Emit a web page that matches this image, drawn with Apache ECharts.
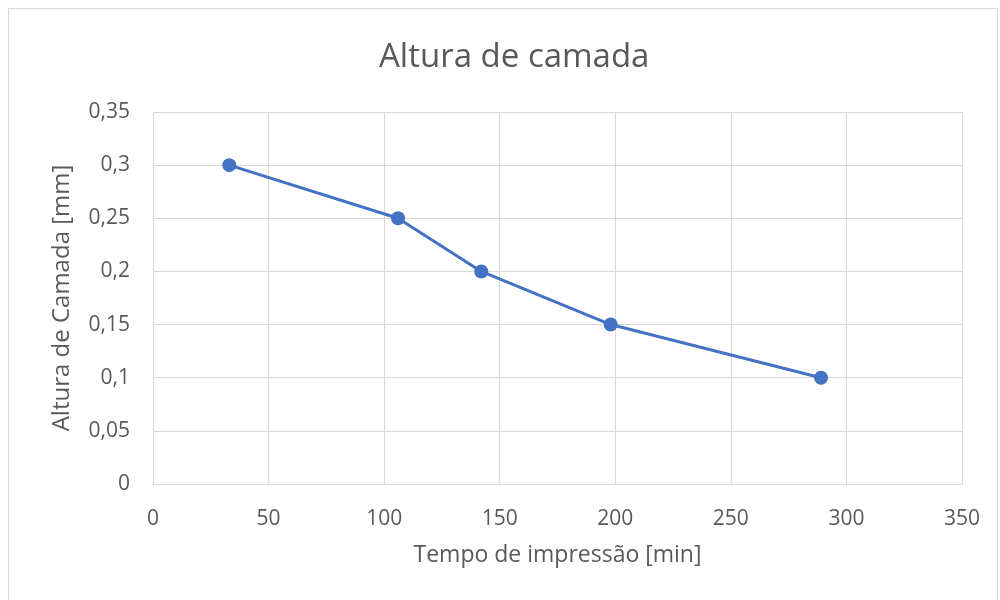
<!DOCTYPE html>
<html><head><meta charset="utf-8">
<script src="https://cdn.jsdelivr.net/npm/echarts@6/dist/echarts.min.js"></script>
<style>html,body{margin:0;padding:0;background:#fff}#c{width:1000px;height:600px}
#frame{position:absolute;left:8px;top:8px;width:990px;height:600px;border:1px solid #d9d9d9;box-sizing:border-box;pointer-events:none}</style>
</head><body><div id="c"></div><div id="frame"></div>
<script>
const timeMin = [33, 106, 142, 198, 289];
const layerHeight = [0.3, 0.25, 0.2, 0.15, 0.1];
const titleText = 'Altura de camada';
const xName = 'Tempo de impressão [min]';
const yName = 'Altura de Camada [mm]';
const font = '"Open Sans", "Noto Sans", sans-serif';
const chart = echarts.init(document.getElementById('c'));
chart.setOption({
  animation: false,
  title: {text: titleText, left: 374, top: 36, textStyle: {fontFamily: font, fontSize: 33, fontWeight: 'normal', color: '#595959'}},
  grid: {left: 153, right: 38, top: 112, bottom: 116},
  xAxis: {type: 'value', min: 0, max: 350, interval: 50,
    name: xName, nameLocation: 'middle', nameGap: 60,
    nameTextStyle: {fontFamily: font, fontSize: 23, color: '#595959'},
    axisLine: {show: true, lineStyle: {color: '#d9d9d9', width: 1}}, axisTick: {show: false},
    axisLabel: {fontFamily: font, fontSize: 21, color: '#595959', margin: 25},
    splitLine: {show: true, lineStyle: {color: '#d9d9d9', width: 1}}},
  yAxis: {type: 'value', min: 0, max: 0.35, interval: 0.05,
    name: yName, nameLocation: 'middle', nameGap: 79,
    nameTextStyle: {fontFamily: font, fontSize: 24, color: '#595959'},
    axisLine: {show: false}, axisTick: {show: false},
    axisLabel: {fontFamily: font, fontSize: 21, color: '#595959', margin: 23,
      formatter: v => String(+v.toFixed(2)).replace('.', ',')},
    splitLine: {show: true, lineStyle: {color: '#d9d9d9', width: 1}}},
  series: [{type: 'line', data: timeMin.map((t, i) => [t, layerHeight[i]]),
    symbol: 'circle', symbolSize: 14,
    lineStyle: {color: '#4472C4', width: 3}, itemStyle: {color: '#4472C4'}}]
});
</script></body></html>
